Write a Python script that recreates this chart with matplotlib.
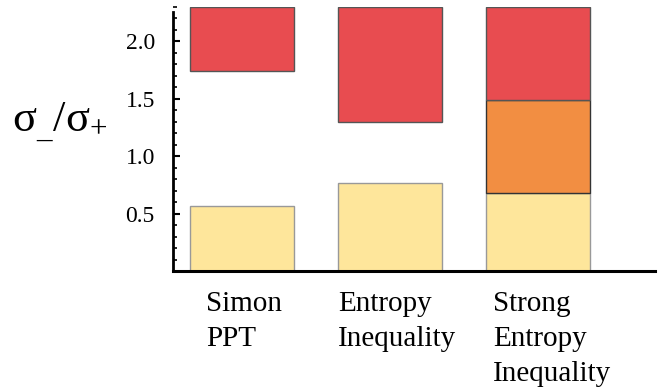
import numpy as np
import matplotlib
matplotlib.use("Agg")
import matplotlib.pyplot as plt
from matplotlib.ticker import MultipleLocator

# categories and the bands of sigma_-/sigma_+ for each test
categories = ["Simon\nPPT", "Entropy\nInequality", "Strong\nEntropy\nInequality"]
yellow_top = [0.57, 0.765, 0.68]           # 0 .. yellow_top
orange_band = [None, None, (0.68, 1.49)]   # only for the strong inequality
red_bottom = [1.74, 1.30, 1.49]            # red_bottom .. plot top
y_top = 2.3

c_yellow = "#FEE69B"
c_orange = "#F28E42"
c_red = "#E84C50"

plt.rcParams["font.family"] = ["Liberation Serif", "DejaVu Serif"]
plt.rcParams["mathtext.fontset"] = "stix"

fig = plt.figure(figsize=(6.6, 3.9), dpi=100)
ax = fig.add_axes([0.262, 0.305, 0.73, 0.678])

x = np.arange(len(categories))
w = 0.70
ax.bar(x, yellow_top, width=w, color=c_yellow, edgecolor="#999999", linewidth=1.0, zorder=2)
for i, band in enumerate(orange_band):
    if band is not None:
        ax.bar(x[i], band[1] - band[0], bottom=band[0], width=w, color=c_orange,
               edgecolor="#333333", linewidth=1.0, zorder=3)
ax.bar(x, [y_top - b for b in red_bottom], bottom=red_bottom, width=w, color=c_red,
       edgecolor="#555555", linewidth=1.0, zorder=3)

ax.set_xlim(-0.466, 2.79)
ax.set_ylim(0, y_top)

for s in ["top", "right"]:
    ax.spines[s].set_visible(False)
ax.spines["left"].set_linewidth(2.0)
ax.spines["bottom"].set_linewidth(2.2)
ax.spines["left"].set_bounds(0, 2.25)
ax.spines["bottom"].set_zorder(5)

ax.yaxis.set_major_locator(MultipleLocator(0.5))
ax.yaxis.set_minor_locator(MultipleLocator(0.1))
ax.set_yticks([0.5, 1.0, 1.5, 2.0])
ax.set_yticklabels(["0.5", "1.0", "1.5", "2.0"])
ax.tick_params(axis="y", which="major", direction="in", length=5, width=1.5,
               labelsize=17, pad=13)
ax.tick_params(axis="y", which="minor", direction="in", length=3, width=1.2)
ax.set_xticks([])

# category labels, left aligned under the bars
label_dx = [0.11, 0.0, 0.05]
for i, lab in enumerate(categories):
    ax.text(x[i] - w / 2 + label_dx[i], -0.17, lab, ha="left", va="top",
            fontsize=21, linespacing=1.45, transform=ax.transData, clip_on=False)

fig.text(0.018, 0.685, r"$\mathregular{σ_{\_}/σ_{+}}$", fontsize=32, ha="left", va="center")

fig.savefig("out.png", dpi=100)
